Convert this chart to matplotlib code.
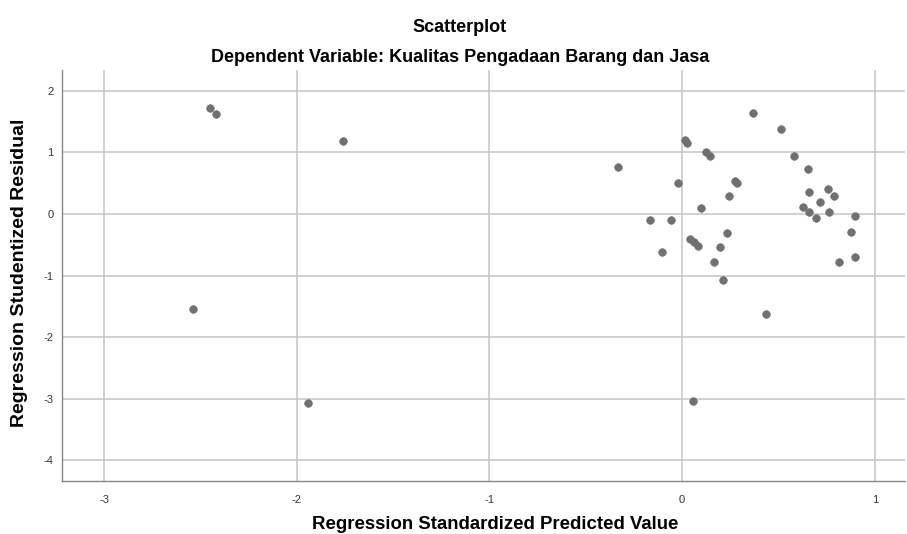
import matplotlib
matplotlib.use("Agg")
from matplotlib import pyplot as plt

# regression standardized predicted value / studentized residual
pred = [-2.45, -2.42, -1.76, -2.54, -1.94, 0.057,
        -0.335, 0.368, 0.515, 0.016, 0.026, 0.124, 0.147, 0.580, 0.651,
        -0.021, 0.275, 0.285, 0.245, 0.658, 0.755, 0.791, 0.717, 0.100,
        0.630, 0.658, 0.765, 0.693, 0.896, -0.166, -0.060, 0.231, 0.876,
        0.041, 0.060, 0.081, 0.197, -0.102, 0.896, 0.813, 0.164, 0.214, 0.435]
resid = [1.72, 1.63, 1.19, -1.54, -3.07, -3.04,
         0.76, 1.64, 1.38, 1.20, 1.16, 1.01, 0.94, 0.95, 0.73,
         0.50, 0.54, 0.51, 0.30, 0.36, 0.40, 0.29, 0.19, 0.09,
         0.12, 0.04, 0.04, -0.07, -0.03, -0.10, -0.09, -0.31, -0.30,
         -0.40, -0.46, -0.52, -0.54, -0.62, -0.70, -0.78, -0.78, -1.08, -1.62]

x_ticks = [-3, -2, -1, 0, 1]
y_ticks = [2, 1, 0, -1, -2, -3, -4]

plt.rcParams['font.family'] = ['Liberation Sans', 'DejaVu Sans']
plt.rcParams['axes.unicode_minus'] = False

W, H = 907, 534
fig = plt.figure(figsize=(W / 100, H / 100), dpi=100)
ax = fig.add_axes([62 / W, 53 / H, 843 / W, 411 / H])

ax.scatter(pred, resid, s=30, color='#707070', edgecolors='#707070', linewidths=0.5, zorder=3)

ax.set_xlim(-3.218, 1.157)
ax.set_ylim(-4.34, 2.34)
ax.set_xticks(x_ticks)
ax.set_yticks(y_ticks)
ax.grid(True, color='#c8c8c8', linewidth=1.2)
ax.set_axisbelow(True)
ax.tick_params(length=0, labelsize=8, colors='#333333')
ax.tick_params(axis='x', pad=10)
ax.tick_params(axis='y', pad=6)

for side in ['top', 'right']:
    ax.spines[side].set_visible(False)
for side in ['left', 'bottom']:
    ax.spines[side].set_color('#888888')
    ax.spines[side].set_linewidth(1.0)

fig.text(495 / W, 5 / H, 'Regression Standardized Predicted Value', ha='center', va='baseline',
         fontsize=13.4, fontweight='bold')
fig.text(19.5 / W, 1 - 273 / H, 'Regression Studentized Residual', ha='center', va='center',
         rotation=90, fontsize=14, fontweight='bold')

fig.text(460 / W, 1 - 28 / H, 'Scatterplot', ha='center', va='center',
         fontsize=13, fontweight='bold')
fig.text(460 / W, 1 - 57 / H, 'Dependent Variable: Kualitas Pengadaan Barang dan Jasa',
         ha='center', va='center', fontsize=13, fontweight='bold')

fig.savefig('out.png', dpi=100)
